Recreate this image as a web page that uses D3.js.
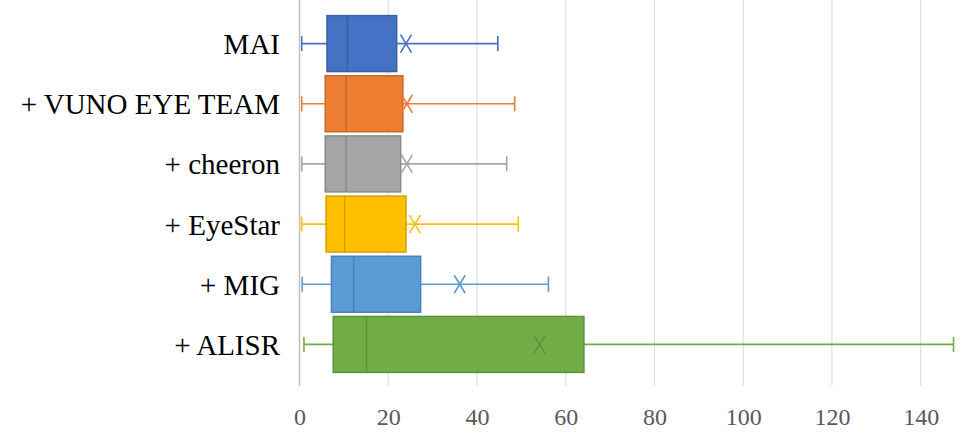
<!DOCTYPE html>
<html>
<head>
<meta charset="utf-8">
<script src="https://cdn.jsdelivr.net/npm/d3@7"></script>
<style>
  body { margin: 0; background: #fff; }
  svg { display: block; }
</style>
</head>
<body>
<div id="chart"></div>
<script>
const width = 962;
const height = 445;

// box plot stats
const categories = ["MAI", "+ VUNO EYE TEAM", "+ cheeron", "+ EyeStar", "+ MIG", "+ ALISR"];
const mins    = [0.5, 0.5, 0.5, 0.5, 0.6, 1.0];
const q1s     = [6.2, 5.8, 5.8, 6.0, 7.2, 7.6];
const medians = [10.8, 10.5, 10.5, 10.2, 12.2, 15.1];
const q3s     = [21.9, 23.3, 22.8, 24.0, 27.3, 64.1];
const means   = [24.0, 24.2, 24.2, 26.0, 36.1, 54.1];
const maxs    = [44.7, 48.5, 46.7, 49.3, 56.1, 147.4];
const colors  = ["#4472C4", "#ED7D31", "#A5A5A5", "#FFC000", "#5B9BD5", "#70AD47"];
const xTicks  = [0, 20, 40, 60, 80, 100, 120, 140];

var svg = d3.select("#chart")
    .append("svg")
    .attr("width", width)
    .attr("height", height);

const x = d3.scaleLinear()
    .domain([0, 140])
    .range([299.5, 920.7]);

const y = d3.scaleBand()
    .domain(categories)
    .range([13.5, 374.5])
    .paddingInner(0.07)
    .paddingOuter(0.035);

const plotBottom = 386;

// gridlines
svg.append("g")
    .selectAll("line")
    .data(xTicks.slice(1))
    .join("line")
    .attr("x1", d => x(d)).attr("x2", d => x(d))
    .attr("y1", 0).attr("y2", plotBottom)
    .attr("stroke", "#d9d9d9")
    .attr("stroke-width", 1);

// axis line
svg.append("line")
    .attr("x1", x(0)).attr("x2", x(0))
    .attr("y1", 0).attr("y2", plotBottom)
    .attr("stroke", "#bfbfbf")
    .attr("stroke-width", 1.5);

// tick labels
const xAxis = d3.axisBottom(x).tickValues(xTicks).tickSize(0).tickPadding(0);
const axisG = svg.append("g")
    .attr("transform", "translate(0," + 407 + ")")
    .call(xAxis);
axisG.select(".domain").remove();
axisG.selectAll("text")
    .attr("dy", "0.75em")
    .style("font-family", "'Liberation Serif', 'Times New Roman', serif")
    .style("font-size", "24px")
    .attr("fill", "#595959");

// category labels
svg.append("g")
    .selectAll("text")
    .data(categories)
    .join("text")
    .attr("x", 280)
    .attr("y", d => y(d) + y.bandwidth() / 2 + 10.5)
    .attr("text-anchor", "end")
    .style("font-family", "'Liberation Serif', 'Times New Roman', serif")
    .style("font-size", "29px")
    .attr("fill", "#000")
    .text(d => d);

const rows = categories.map((c, i) => ({
    cat: c, min: mins[i], q1: q1s[i], med: medians[i], q3: q3s[i],
    mean: means[i], max: maxs[i], color: colors[i]
}));

const boxes = svg.append("g")
    .selectAll("g")
    .data(rows)
    .join("g")
    .attr("transform", d => "translate(0," + y(d.cat) + ")");

const bw = y.bandwidth();
const capH = 15;

// whisker
boxes.append("line")
    .attr("x1", d => x(d.min)).attr("x2", d => x(d.max))
    .attr("y1", bw / 2).attr("y2", bw / 2)
    .attr("stroke", d => d.color)
    .attr("stroke-width", 1.6);

boxes.selectAll(".cap")
    .data(d => [d.min, d.max].map(v => ({v: v, color: d.color})))
    .join("line")
    .attr("class", "cap")
    .attr("x1", d => x(d.v)).attr("x2", d => x(d.v))
    .attr("y1", bw / 2 - capH / 2).attr("y2", bw / 2 + capH / 2)
    .attr("stroke", d => d.color)
    .attr("stroke-width", 1.6);

// box
boxes.append("rect")
    .attr("x", d => x(d.q1))
    .attr("width", d => x(d.q3) - x(d.q1))
    .attr("y", 0)
    .attr("height", bw)
    .attr("fill", d => d.color)
    .attr("stroke", d => d3.color(d.color).darker(0.5))
    .attr("stroke-width", 1.5);

// median
boxes.append("line")
    .attr("x1", d => x(d.med)).attr("x2", d => x(d.med))
    .attr("y1", 0).attr("y2", bw)
    .attr("stroke", d => d3.color(d.color).darker(0.5))
    .attr("stroke-width", 1.5);

// mean marker (X)
boxes.append("path")
    .attr("d", d => {
        const cx = x(d.mean), cy = bw / 2, hw = 5.5, hh = 9;
        return "M" + (cx - hw) + "," + (cy - hh) + "L" + (cx + hw) + "," + (cy + hh) +
               "M" + (cx + hw) + "," + (cy - hh) + "L" + (cx - hw) + "," + (cy + hh);
    })
    .attr("fill", "none")
    .attr("stroke", d => d.max > 100 ? d3.color(d.color).darker(0.5) : d.color)
    .attr("stroke-width", 1.6);
</script>
</body>
</html>
